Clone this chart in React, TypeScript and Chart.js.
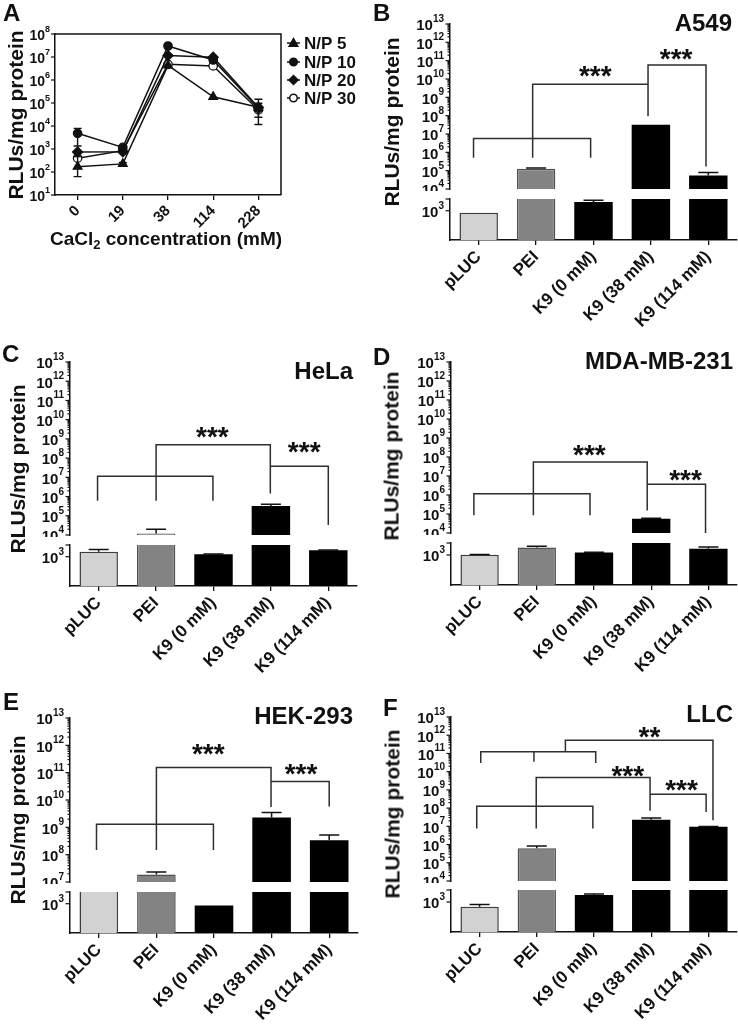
import React, { useEffect, useRef } from 'react';
import { Chart, registerables } from 'chart.js';

Chart.register(...registerables);

const FONT = '"Liberation Sans", Arial, Helvetica, sans-serif';
const INK = '#111111';
const BRACKET = '#2e2e2e';

// ---------------- Panel A data ----------------
const doseLabels = ['0', '19', '38', '114', '228'];
const np5Values = [170, 225, 4.3e6, 1.85e5, 6.5e4];
const np10Values = [4800, 1180, 3.0e7, 7.4e6, 5.9e4];
const np20Values = [740, 760, 1.15e7, 9.8e6, 6.3e4];
const np30Values = [400, 850, 4.8e6, 4.1e6, 5.0e4];
const np5ErrLow = [63, 200, null, null, 1.17e4];
const np5ErrHigh = [470, 260, null, null, 1.45e5];
const np10ErrLow = [1350, 1000, null, null, 2.4e4];
const np10ErrHigh = [7900, 1250, null, null, 9.8e4];
const noErr = [null, null, null, null, null];

// ---------------- Bar panel data ----------------
const groupLabels = ['pLUC', 'PEI', 'K9 (0 mM)', 'K9 (38 mM)', 'K9 (114 mM)'];
const LOWER_TICK = 1000;
const LOWER_MAX = 1400;
const TOP_EXP = 13;

const a549Values = [930, 1.26e5, 1300, 3.2e7, 5.4e4];
const a549Sd = [0, 1.5e4, 55, 0, 2.5e4];
const a549Brackets = [
  [[-0.09, 5.7], [-0.09, 6.75], [1.95, 6.75], [1.95, 5.7]],
  [[0.94, 5.7], [0.94, 9.71], [2.95, 9.71]],
  [[2.95, 7.97], [2.95, 10.77], [3.96, 10.77], [3.96, 5.23]],
];
const a549Stars = [
  { at: [2.03, 10.54], text: '***' },
  { at: [3.44, 11.47], text: '***' },
];

const helaValues = [1170, 1.2e4, 1080, 3.2e5, 1220];
const helaSd = [80, 8e3, 15, 8e4, 10];
const helaBrackets = [
  [[-0.02, 5.78], [-0.02, 7.06], [1.99, 7.06], [1.99, 5.78]],
  [[1.0, 5.78], [1.0, 8.7], [2.99, 8.7], [2.99, 6.16]],
  [[2.99, 7.58], [4.0, 7.58], [4.0, 4.52]],
];
const helaStars = [
  { at: [1.98, 9.44], text: '***' },
  { at: [3.58, 8.66], text: '***' },
];

const mdaValues = [1010, 1250, 1085, 5.7e4, 1210];
const mdaSd = [10, 45, 10, 2e3, 55];
const mdaBrackets = [
  [[-0.1, 4.93], [-0.1, 6.07], [1.93, 6.07], [1.93, 4.93]],
  [[0.94, 4.93], [0.94, 7.74], [2.93, 7.74], [2.93, 5.19]],
  [[2.93, 6.56], [3.95, 6.56], [3.95, 4.0]],
];
const mdaStars = [
  { at: [1.92, 8.46], text: '***' },
  { at: [3.6, 7.14], text: '***' },
];

const hekValues = [2.0e5, 1.9e7, 940, 2.3e9, 3.4e8];
const hekSd = [0, 4e6, 0, 1.2e9, 1.8e8];
const hekBrackets = [
  [[-0.04, 8.17], [-0.04, 9.11], [1.99, 9.11], [1.99, 8.17]],
  [[1.0, 8.17], [1.0, 11.19], [2.99, 11.19], [2.99, 9.74]],
  [[2.99, 10.68], [4.0, 10.68], [4.0, 9.76]],
];
const hekStars = [
  { at: [1.9, 11.92], text: '***' },
  { at: [3.51, 11.22], text: '***' },
];

const llcValues = [840, 6.3e5, 1230, 2.3e7, 9.4e6];
const llcSd = [80, 2e5, 35, 6e6, 3e5];
const llcBrackets = [
  [[0.02, 10.48], [0.02, 11.09], [2.03, 11.09], [2.03, 10.48]],
  [[0.95, 10.54], [0.95, 11.09]],
  [[1.5, 11.09], [1.5, 11.73], [4.08, 11.73], [4.08, 7.34]],
  [[-0.05, 6.88], [-0.05, 8.1], [1.98, 8.1], [1.98, 6.88]],
  [[0.99, 6.88], [0.99, 9.68], [2.98, 9.68], [2.98, 7.85]],
  [[2.98, 8.76], [3.96, 8.76], [3.96, 7.79]],
];
const llcStars = [
  { at: [2.97, 12.28], text: '**' },
  { at: [2.59, 10.14], text: '***' },
  { at: [3.53, 9.38], text: '***' },
];

// ---------------- styles ----------------
const barFills = ['#d2d2d2', '#838383', '#000000', '#000000', '#000000'];
const barEdges = ['#3c3c3c', '#505050', '#000000', '#000000', '#000000'];
const barEdgeWidths = [1.5, 1.5, 0, 0, 0];
const BAR_PCT = 0.67;
const CAP = 20;
const AXW = 70;
const UPPER_PAD_TOP = 16;
const LOWER_PAD_TOP = 8;
const X_AXIS_H = 120;

function hTick(ctx: any, x: number, y: number, len: number) {
  ctx.beginPath();
  ctx.moveTo(x, y);
  ctx.lineTo(x - len, y);
  ctx.stroke();
}

function drawPower(ctx: any, xRight: number, y: number, exp: number, base: number, small: number) {
  ctx.fillStyle = INK;
  ctx.textAlign = 'right';
  ctx.textBaseline = 'alphabetic';
  ctx.font = `bold ${small}px ${FONT}`;
  const t = String(exp);
  const w = ctx.measureText(t).width;
  ctx.fillText(t, xRight, y - base * 0.37 + small * 0.358);
  ctx.font = `bold ${base}px ${FONT}`;
  ctx.fillText('10', xRight - w, y + 1 + base * 0.358);
}

function drawErrors(ctx: any, xs: any, ys: any, values: number[], sd: number[], visible: (v: number) => boolean) {
  ctx.strokeStyle = INK;
  ctx.lineWidth = 1.5;
  values.forEach((v, i) => {
    if (!sd[i] || !visible(v)) return;
    const x = xs.getPixelForValue(i);
    const y0 = ys.getPixelForValue(v);
    const y1 = ys.getPixelForValue(v + sd[i]);
    ctx.beginPath();
    ctx.moveTo(x, y0);
    ctx.lineTo(x, y1);
    ctx.moveTo(x - CAP / 2, y1);
    ctx.lineTo(x + CAP / 2, y1);
    ctx.stroke();
  });
}

function upperDecor(s: any) {
  return {
    id: 'upperDecor',
    afterDraw(chart: any) {
      const { ctx, chartArea } = chart;
      const xs = chart.scales.x;
      const ys = chart.scales.y;
      const ax = chartArea.left;
      ctx.save();
      ctx.strokeStyle = INK;
      ctx.lineWidth = 1.2;
      for (let e = s.minExp; e <= TOP_EXP; e++) {
        const y = ys.getPixelForValue(10 ** e);
        hTick(ctx, ax, y, 4.5);
        if (e < TOP_EXP) {
          for (let m = 2; m < 10; m++) hTick(ctx, ax, ys.getPixelForValue(m * 10 ** e), 2.5);
        }
        drawPower(ctx, ax - 6, y, e, 15, 10);
      }
      const minVal = 10 ** s.minExp;
      drawErrors(ctx, xs, ys, s.values, s.sd, (v) => v >= minVal);
      ctx.strokeStyle = BRACKET;
      ctx.lineWidth = 1.5;
      for (const line of s.brackets) {
        ctx.beginPath();
        line.forEach((p: number[], k: number) => {
          const x = xs.getPixelForValue(p[0]);
          const y = ys.getPixelForValue(10 ** p[1]);
          if (k === 0) ctx.moveTo(x, y);
          else ctx.lineTo(x, y);
        });
        ctx.stroke();
      }
      const starSize = 28;
      ctx.font = `bold ${starSize}px ${FONT}`;
      ctx.fillStyle = INK;
      ctx.textAlign = 'center';
      ctx.textBaseline = 'alphabetic';
      for (const st of s.stars) {
        const x = xs.getPixelForValue(st.at[0]);
        const y = ys.getPixelForValue(10 ** st.at[1]);
        ctx.fillText(st.text, x, y + starSize * 0.57);
      }
      ctx.restore();
    },
  };
}

function lowerDecor(s: any) {
  return {
    id: 'lowerDecor',
    afterDraw(chart: any) {
      const { ctx, chartArea } = chart;
      const xs = chart.scales.x;
      const ys = chart.scales.y;
      const ax = chartArea.left;
      ctx.save();
      ctx.strokeStyle = INK;
      ctx.lineWidth = 1.2;
      const yt = ys.getPixelForValue(LOWER_TICK);
      hTick(ctx, ax, yt, 4.5);
      hTick(ctx, ax, ys.getPixelForValue(LOWER_MAX), 4.5);
      drawPower(ctx, ax - 6, yt, 3, 15, 10);
      drawErrors(ctx, xs, ys, s.values, s.sd, (v) => v <= LOWER_MAX);
      ctx.restore();
    },
  };
}

function ChartBox({ left, top, width, height, make }: any) {
  const ref = useRef<HTMLCanvasElement | null>(null);
  useEffect(() => {
    const chart = new Chart(ref.current as HTMLCanvasElement, make());
    return () => chart.destroy();
  }, []);
  return (
    <canvas
      ref={ref}
      width={width}
      height={height}
      style={{ position: 'absolute', left, top, width, height }}
    />
  );
}

function Label({ text, left, cy, size, right }: any) {
  return (
    <div
      style={{
        position: 'absolute',
        left,
        top: cy - size / 2,
        transform: right ? 'translateX(-100%)' : undefined,
        font: `bold ${size}px ${FONT}`,
        lineHeight: `${size}px`,
        whiteSpace: 'nowrap',
        color: INK,
      }}
    >
      {text}
    </div>
  );
}

function YTitle({ cx, cy }: any) {
  return (
    <div
      style={{
        position: 'absolute',
        left: cx,
        top: cy,
        transform: 'translate(-50%, -50%) rotate(-90deg)',
        font: `bold 21px ${FONT}`,
        lineHeight: '21px',
        whiteSpace: 'nowrap',
        color: INK,
      }}
    >
      RLUs/mg protein
    </div>
  );
}

function BarPanel({ s }: any) {
  const canvasLeft = s.axisX - AXW;
  const width = s.right - canvasLeft + 2;
  const upperH = s.upperBottom - s.upperTop + UPPER_PAD_TOP + 2;
  const lowerH = s.lowerBottom - s.lowerTop + LOWER_PAD_TOP + X_AXIS_H;
  const minVal = 10 ** s.minExp;

  const makeUpper = () => ({
    type: 'bar',
    data: {
      labels: groupLabels,
      datasets: [
        {
          data: s.values.map((v: number) => (v >= minVal ? v : null)),
          base: minVal,
          backgroundColor: barFills,
          borderColor: barEdges,
          borderWidth: (c: any) => {
            const e = barEdgeWidths[c.dataIndex];
            return { left: e, right: e, top: e, bottom: 0 };
          },
          barPercentage: BAR_PCT,
          categoryPercentage: 1,
        },
      ],
    },
    options: {
      responsive: false,
      animation: false,
      devicePixelRatio: 1,
      layout: { padding: { left: 0, top: UPPER_PAD_TOP, right: 2, bottom: 2 } },
      plugins: { legend: { display: false }, tooltip: { enabled: false } },
      scales: {
        x: { type: 'category', display: false, offset: true },
        y: {
          type: 'logarithmic',
          min: minVal,
          max: 10 ** TOP_EXP,
          afterFit: (sc: any) => {
            sc.width = AXW;
          },
          ticks: { display: false },
          grid: { display: false },
          border: { display: true, color: INK, width: 1.5 },
        },
      },
    },
    plugins: [upperDecor(s)],
  });

  const makeLower = () => ({
    type: 'bar',
    data: {
      labels: groupLabels,
      datasets: [
        {
          data: s.values.map((v: number) => Math.min(v, LOWER_MAX)),
          backgroundColor: barFills,
          borderColor: barEdges,
          borderWidth: (c: any) => {
            const i = c.dataIndex;
            const e = barEdgeWidths[i];
            return { left: e, right: e, top: s.values[i] > LOWER_MAX ? 0 : e, bottom: 0 };
          },
          barPercentage: BAR_PCT,
          categoryPercentage: 1,
        },
      ],
    },
    options: {
      responsive: false,
      animation: false,
      devicePixelRatio: 1,
      layout: { padding: { left: 0, top: LOWER_PAD_TOP, right: 2, bottom: 0 } },
      plugins: { legend: { display: false }, tooltip: { enabled: false } },
      scales: {
        x: {
          type: 'category',
          offset: true,
          afterFit: (sc: any) => {
            sc.height = X_AXIS_H;
          },
          grid: {
            display: true,
            drawOnChartArea: false,
            drawTicks: true,
            tickLength: 5,
            offset: false,
            color: INK,
            lineWidth: 1.3,
          },
          border: { display: true, color: INK, width: 1.5 },
          ticks: {
            autoSkip: false,
            minRotation: 45,
            maxRotation: 45,
            padding: 2,
            color: INK,
            font: { family: FONT, size: 17, weight: 'bold' },
          },
        },
        y: {
          type: 'linear',
          min: 0,
          max: LOWER_MAX,
          afterFit: (sc: any) => {
            sc.width = AXW;
          },
          ticks: { display: false },
          grid: { display: false },
          border: { display: true, color: INK, width: 1.5 },
        },
      },
    },
    plugins: [lowerDecor(s)],
  });

  return (
    <>
      <ChartBox left={canvasLeft} top={s.upperTop - UPPER_PAD_TOP} width={width} height={upperH} make={makeUpper} />
      <ChartBox left={canvasLeft} top={s.lowerTop - LOWER_PAD_TOP} width={width} height={lowerH} make={makeLower} />
      <Label text={s.letter} left={s.letterX} cy={s.letterY} size={24} />
      <Label text={s.title} left={s.titleRight} cy={s.titleY} size={24} right />
      <YTitle cx={s.yTitleX} cy={s.yTitleY} />
    </>
  );
}

// ---------------- Panel A ----------------
const aSeries = [
  { label: 'N/P 5', data: np5Values, lo: np5ErrLow, hi: np5ErrHigh, style: 'triangle', fill: INK, r: 5 },
  { label: 'N/P 10', data: np10Values, lo: np10ErrLow, hi: np10ErrHigh, style: 'circle', fill: INK, r: 4.2 },
  { label: 'N/P 20', data: np20Values, lo: noErr, hi: noErr, style: 'rectRot', fill: INK, r: 5 },
  { label: 'N/P 30', data: np30Values, lo: noErr, hi: noErr, style: 'circle', fill: '#ffffff', r: 4.2 },
];

function drawMarker(ctx: any, style: string, x: number, y: number, r: number, fill: string) {
  ctx.beginPath();
  if (style === 'triangle') {
    ctx.moveTo(x, y - r);
    ctx.lineTo(x + r * 0.95, y + r * 0.7);
    ctx.lineTo(x - r * 0.95, y + r * 0.7);
    ctx.closePath();
  } else if (style === 'rectRot') {
    ctx.moveTo(x, y - r);
    ctx.lineTo(x + r, y);
    ctx.lineTo(x, y + r);
    ctx.lineTo(x - r, y);
    ctx.closePath();
  } else {
    ctx.arc(x, y, r, 0, Math.PI * 2);
  }
  ctx.fillStyle = fill;
  ctx.fill();
  ctx.stroke();
}

const aDecor = {
  id: 'aDecor',
  afterDraw(chart: any) {
    const { ctx, chartArea: ca } = chart;
    const xs = chart.scales.x;
    const ys = chart.scales.y;
    ctx.save();
    ctx.strokeStyle = INK;
    ctx.lineWidth = 1.5;
    ctx.beginPath();
    ctx.moveTo(ca.left, ca.top);
    ctx.lineTo(ca.right, ca.top);
    ctx.lineTo(ca.right, ca.bottom);
    ctx.stroke();
    ctx.lineWidth = 1.2;
    for (let e = 1; e <= 8; e++) {
      const y = ys.getPixelForValue(10 ** e);
      hTick(ctx, ca.left, y, 4);
      drawPower(ctx, ca.left - 5, y, e, 14, 9);
    }
    ctx.strokeStyle = INK;
    ctx.lineWidth = 1.4;
    aSeries.forEach((s) => {
      s.lo.forEach((lo: any, i: number) => {
        const hi = s.hi[i];
        if (lo == null || hi == null) return;
        const x = xs.getPixelForValue(i);
        const y0 = ys.getPixelForValue(lo);
        const y1 = ys.getPixelForValue(hi);
        ctx.beginPath();
        ctx.moveTo(x, y0);
        ctx.lineTo(x, y1);
        ctx.moveTo(x - 4, y0);
        ctx.lineTo(x + 4, y0);
        ctx.moveTo(x - 4, y1);
        ctx.lineTo(x + 4, y1);
        ctx.stroke();
      });
    });
    // legend
    const rows = [9, 28, 46, 64];
    aSeries.forEach((s, k) => {
      const y = ca.top + rows[k];
      const x0 = ca.right + 6;
      ctx.strokeStyle = INK;
      ctx.lineWidth = 1.5;
      ctx.beginPath();
      ctx.moveTo(x0, y);
      ctx.lineTo(x0 + 13, y);
      ctx.stroke();
      drawMarker(ctx, s.style, x0 + 6.5, y, s.r * 0.9, s.fill);
      ctx.fillStyle = INK;
      ctx.font = `bold 17px ${FONT}`;
      ctx.textAlign = 'left';
      ctx.textBaseline = 'alphabetic';
      ctx.fillText(s.label, x0 + 17, y + 17 * 0.358);
    });
    ctx.restore();
  },
};

const makeA = () => ({
  type: 'line',
  data: {
    labels: doseLabels,
    datasets: aSeries.map((s) => ({
      label: s.label,
      data: s.data,
      borderColor: INK,
      borderWidth: 1.5,
      pointStyle: s.style,
      pointRadius: s.r,
      pointBackgroundColor: s.fill,
      pointBorderColor: INK,
      pointBorderWidth: 1.3,
      tension: 0,
    })),
  },
  options: {
    responsive: false,
    animation: false,
    devicePixelRatio: 1,
    layout: { padding: { left: 0, top: 34, right: 89, bottom: 0 } },
    plugins: { legend: { display: false }, tooltip: { enabled: false } },
    scales: {
      x: {
        type: 'category',
        offset: true,
        afterFit: (sc: any) => {
          sc.height = 67;
        },
        grid: { display: true, drawOnChartArea: false, drawTicks: true, tickLength: 5, offset: false, color: INK, lineWidth: 1.3 },
        border: { display: true, color: INK, width: 1.5 },
        ticks: {
          autoSkip: false,
          minRotation: 45,
          maxRotation: 45,
          padding: 2,
          color: INK,
          font: { family: FONT, size: 15, weight: 'bold' },
        },
      },
      y: {
        type: 'logarithmic',
        min: 10,
        max: 1e8,
        afterFit: (sc: any) => {
          sc.width = 55;
        },
        ticks: { display: false },
        grid: { display: false },
        border: { display: true, color: INK, width: 1.5 },
      },
    },
  },
  plugins: [aDecor],
});

const panels = [
  {
    letter: 'B', letterX: 373, letterY: 13, title: 'A549', titleRight: 732, titleY: 23, yTitleX: 391, yTitleY: 122,
    axisX: 450, right: 737, upperTop: 24, upperBottom: 189, lowerTop: 199, lowerBottom: 240, minExp: 4,
    values: a549Values, sd: a549Sd, brackets: a549Brackets, stars: a549Stars,
  },
  {
    letter: 'C', letterX: 2, letterY: 354, title: 'HeLa', titleRight: 353, titleY: 371, yTitleX: 17, yTitleY: 469,
    axisX: 70, right: 357, upperTop: 362, upperBottom: 535, lowerTop: 545, lowerBottom: 586, minExp: 4,
    values: helaValues, sd: helaSd, brackets: helaBrackets, stars: helaStars,
  },
  {
    letter: 'D', letterX: 373, letterY: 357, title: 'MDA-MB-231', titleRight: 733, titleY: 361, yTitleX: 391, yTitleY: 456,
    axisX: 451, right: 737, upperTop: 362, upperBottom: 533, lowerTop: 543, lowerBottom: 585, minExp: 4,
    values: mdaValues, sd: mdaSd, brackets: mdaBrackets, stars: mdaStars,
  },
  {
    letter: 'E', letterX: 3, letterY: 702, title: 'HEK-293', titleRight: 353, titleY: 716, yTitleX: 17, yTitleY: 820,
    axisX: 70, right: 358, upperTop: 718, upperBottom: 882, lowerTop: 892, lowerBottom: 933, minExp: 7,
    values: hekValues, sd: hekSd, brackets: hekBrackets, stars: hekStars,
  },
  {
    letter: 'F', letterX: 383, letterY: 708, title: 'LLC', titleRight: 733, titleY: 714, yTitleX: 392, yTitleY: 814,
    axisX: 451, right: 737, upperTop: 717, upperBottom: 881, lowerTop: 890, lowerBottom: 932, minExp: 4,
    values: llcValues, sd: llcSd, brackets: llcBrackets, stars: llcStars,
  },
];

export default function App() {
  return (
    <div
      style={{
        position: 'absolute',
        left: 0,
        top: 0,
        width: 738,
        height: 1029,
        background: '#ffffff',
        overflow: 'hidden',
      }}
    >
      <ChartBox left={0} top={0} width={370} height={262} make={makeA} />
      <Label text="A" left={3} cy={13} size={24} />
      <YTitle cx={15} cy={115} />
      <div
        style={{
          position: 'absolute',
          left: 166,
          top: 238,
          transform: 'translate(-50%, -50%)',
          font: `bold 19px ${FONT}`,
          lineHeight: '19px',
          whiteSpace: 'nowrap',
          color: INK,
        }}
      >
        CaCl<sub style={{ fontSize: '13px', verticalAlign: '-4px', lineHeight: '0' }}>2</sub> concentration (mM)
      </div>
      {panels.map((p) => (
        <BarPanel key={p.letter} s={p} />
      ))}
    </div>
  );
}
